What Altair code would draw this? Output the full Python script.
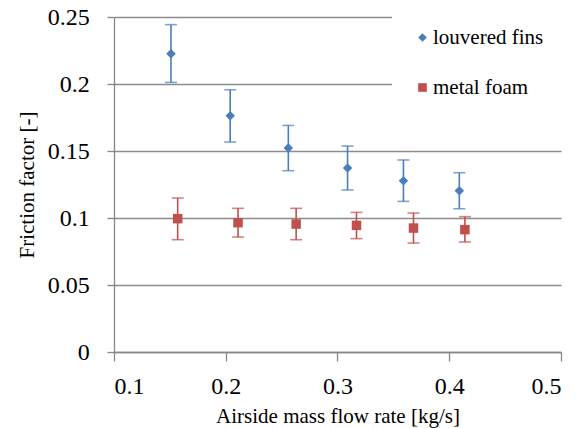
import altair as alt
import pandas as pd

series_names = ["louvered fins", "metal foam"]
series_colors = ["#4A7EBB", "#C0504D"]
series_shapes = ["diamond", "square"]

lf_x = [0.151, 0.204, 0.256, 0.309, 0.359, 0.409]
lf_y = [0.2226, 0.1763, 0.1522, 0.1373, 0.1278, 0.1204]
lf_lo = [0.2012, 0.1567, 0.1353, 0.1209, 0.1124, 0.1069]
lf_hi = [0.2443, 0.1957, 0.1691, 0.1537, 0.1433, 0.1338]

mf_x = [0.157, 0.211, 0.263, 0.317, 0.368, 0.414]
mf_y = [0.0995, 0.0965, 0.0955, 0.0945, 0.0925, 0.0913]
mf_lo = [0.0838, 0.0858, 0.0838, 0.0846, 0.0813, 0.0821]
mf_hi = [0.1149, 0.1072, 0.1072, 0.1042, 0.1037, 0.1010]

x_ticks = [0.1, 0.2, 0.3, 0.4, 0.5]
y_ticks = [0, 0.05, 0.1, 0.15, 0.2, 0.25]

rows = []
for name, xs, ys, los, his in [
    (series_names[0], lf_x, lf_y, lf_lo, lf_hi),
    (series_names[1], mf_x, mf_y, mf_lo, mf_hi),
]:
    for a, b, c, d in zip(xs, ys, los, his):
        rows.append({"series": name, "x": a, "y": b, "lo": c, "hi": d})
df = pd.DataFrame(rows)

FONT = "Liberation Serif"
W, H = 447, 335

xscale = alt.Scale(domain=[0.1, 0.5], nice=False, zero=False)
yscale = alt.Scale(domain=[0, 0.25], nice=False)
color = alt.Color(
    "series:N",
    scale=alt.Scale(domain=series_names, range=series_colors),
    legend=alt.Legend(
        title=None,
        orient="none",
        legendX=278,
        legendY=-10,
        fillColor="white",
        padding=20,
        labelFont=FONT,
        labelFontSize=21,
        labelColor="black",
        labelOffset=0,
        rowPadding=28,
        symbolSize=75,
        symbolStrokeWidth=0,
        symbolOpacity=1,
        labelLimit=300,
    ),
)
shape = alt.Shape(
    "series:N",
    scale=alt.Scale(domain=series_names, range=series_shapes),
    legend=None,
)

xaxis = alt.Axis(
    values=x_ticks,
    format=".1f",
    title="Airside mass flow rate [kg/s]",
    grid=False,
    tickSize=9,
    labelPadding=32,
    labelBaseline="alphabetic",
    labelFont=FONT,
    labelFontSize=24,
    titleFont=FONT,
    titleFontSize=21,
    titleFontWeight="normal",
    titleBaseline="alphabetic",
    titleY=70.7,
    titleX=W / 2,
)
yaxis = alt.Axis(
    values=y_ticks,
    labelExpr="format(datum.value, '~g')",
    title="Friction factor [-]",
    grid=True,
    tickSize=7,
    labelPadding=17.7,
    labelAlign="right",
    labelBaseline="middle",
    labelFont=FONT,
    labelFontSize=24,
    titleFont=FONT,
    titleFontSize=21,
    titleFontWeight="normal",
    titleBaseline="alphabetic",
    titleAngle=270,
    titleAlign="center",
    titleX=-81,
    titleY=H / 2,
)

base = alt.Chart(df)

rules = base.mark_rule(strokeWidth=1.6).encode(
    x=alt.X("x:Q", scale=xscale, axis=xaxis),
    y=alt.Y("lo:Q", scale=yscale, axis=yaxis),
    y2="hi:Q",
    color=color,
)
cap_lo = base.mark_tick(orient="horizontal", size=12, thickness=1.6).encode(
    x=alt.X("x:Q", scale=xscale),
    y=alt.Y("lo:Q", scale=yscale),
    color=color,
)
cap_hi = base.mark_tick(orient="horizontal", size=12, thickness=1.6).encode(
    x=alt.X("x:Q", scale=xscale),
    y=alt.Y("hi:Q", scale=yscale),
    color=color,
)
points = base.mark_point(filled=True, size=90, opacity=1).encode(
    x=alt.X("x:Q", scale=xscale),
    y=alt.Y("y:Q", scale=yscale),
    color=color,
    shape=shape,
)

chart = (
    alt.layer(rules, cap_lo, cap_hi, points)
    .properties(
        width=W,
        height=H,
        autosize=alt.AutoSizeParams(type="none"),
        padding={"left": 106, "top": 9, "right": 18, "bottom": 76},
    )
    .configure_view(stroke=None)
    .configure_axis(
        labelColor="black",
        titleColor="black",
        domainColor="#868686",
        tickColor="#868686",
        gridColor="#8c8c8c",
        domainWidth=1.3,
        tickWidth=1.3,
        gridWidth=1.5,
    )
)

chart.save("out.html", embed_options={"renderer": "svg", "actions": False})
